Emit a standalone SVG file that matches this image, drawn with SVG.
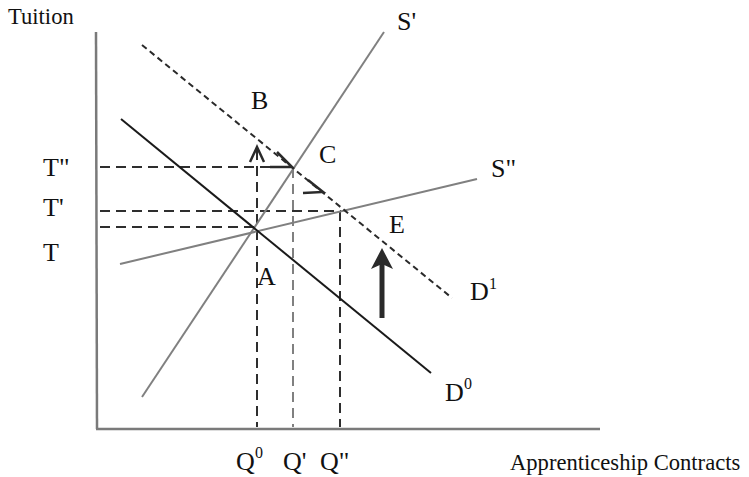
<svg xmlns="http://www.w3.org/2000/svg" width="749" height="477" viewBox="0 0 749 477">
<style>
.lbl{font-family:"Liberation Serif","Times New Roman",serif;fill:#111;font-size:26px}
.sup{font-family:"Liberation Serif","Times New Roman",serif;fill:#111;font-size:16px}
.small{font-family:"Liberation Serif","Times New Roman",serif;fill:#111;font-size:22.6px}
.axis{stroke:#7a7a7a;stroke-width:2.5;fill:none}
.supply{stroke:#808080;stroke-width:2;fill:none}
.dem{stroke:#1a1a1a;stroke-width:2;fill:none}
.dem1{stroke:#2a2a2a;stroke-width:2;fill:none;stroke-dasharray:6 4}
.guide{stroke:#2e2e2e;stroke-width:2;fill:none;stroke-dasharray:10 6}
.guide2{stroke:#808080;stroke-width:2;fill:none;stroke-dasharray:10 6}
.head{stroke:#2a2a2a;stroke-width:2.5;fill:none}
</style>
<rect width="749" height="477" fill="#fff"/>
<g id="axes">
<line class="axis" x1="96" y1="32" x2="97" y2="429"/>
<line class="axis" x1="96" y1="429" x2="600" y2="429"/>
</g>
<g id="connectors">
<line class="guide" x1="100" y1="167" x2="292" y2="167"/>
<line class="guide" x1="100" y1="211" x2="341" y2="211"/>
<line class="guide" x1="100" y1="227" x2="256" y2="227"/>
<line class="guide" x1="257" y1="150" x2="257" y2="427"/>
<line class="guide2" x1="293" y1="168" x2="293" y2="427"/>
<line class="guide" x1="340" y1="211" x2="340" y2="427"/>
<line class="supply" x1="142" y1="397" x2="384" y2="32"/>
<line class="supply" x1="120" y1="264" x2="477" y2="179"/>
<line class="dem" x1="121" y1="119" x2="431" y2="373"/>
<line class="dem1" x1="142" y1="45" x2="452" y2="298"/>
<polyline class="head" points="250,162 257,147 264,162"/>
<polyline class="head" points="277,152 292,167 270,167"/>
<polyline class="head" points="308,180 323,192 303,193"/>
<line x1="382" y1="318" x2="382" y2="262" stroke="#2a2a2a" stroke-width="5"/>
<path d="M382,248 L393,269 L382,264 L371,269 Z" fill="#2a2a2a"/>
</g>
<g id="labels">
<text class="small" x="8" y="24">Tuition</text>
<text class="lbl" x="397" y="30">S'</text>
<text class="lbl" x="491" y="177">S"</text>
<text class="lbl" x="43" y="176">T"</text>
<text class="lbl" x="43" y="216">T'</text>
<text class="lbl" x="43" y="261">T</text>
<text class="lbl" x="251" y="109">B</text>
<text class="lbl" x="319" y="163">C</text>
<text class="lbl" x="257" y="285">A</text>
<text class="lbl" x="389" y="233">E</text>
<text class="lbl" x="470" y="300">D</text>
<text class="sup" x="489" y="289">1</text>
<text class="lbl" x="445" y="401">D</text>
<text class="sup" x="464" y="389">0</text>
<text class="lbl" x="236" y="470">Q</text>
<text class="sup" x="255" y="458">0</text>
<text class="lbl" x="283" y="470">Q'</text>
<text class="lbl" x="320" y="470">Q"</text>
<text class="small" x="510" y="470">Apprenticeship Contracts</text>
</g>
</svg>
